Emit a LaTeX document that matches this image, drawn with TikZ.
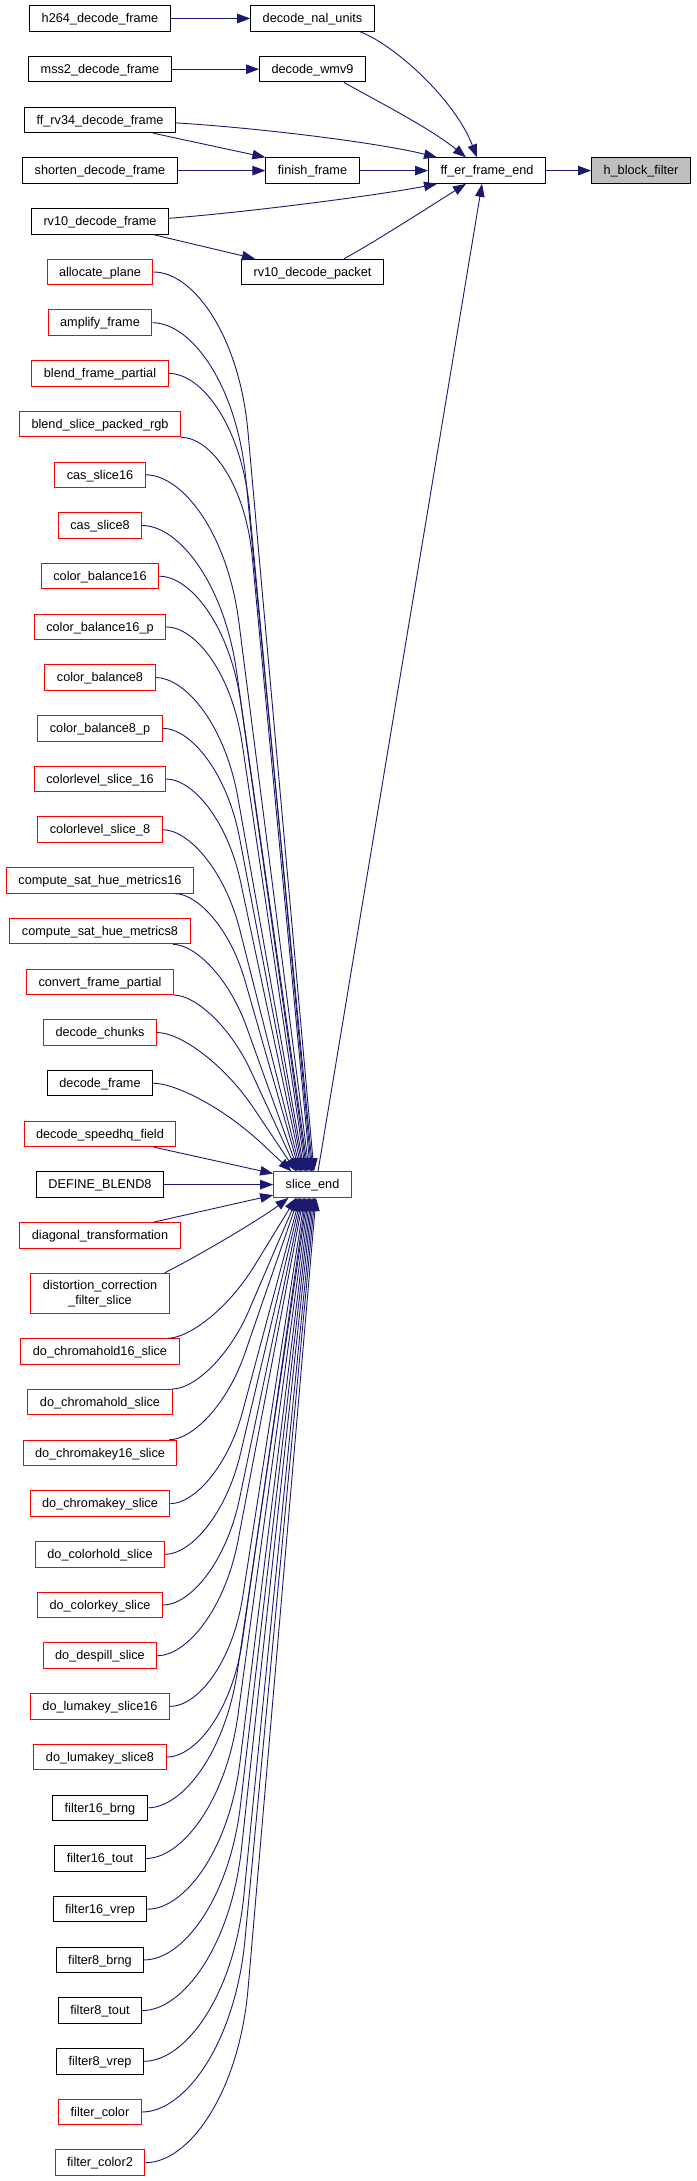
\documentclass[tikz,border=0pt]{standalone}
\usepackage{fontspec}
\setmainfont{Liberation Sans}[Ligatures={NoCommon}]
\usetikzlibrary{arrows.meta,calc}
\definecolor{edgeblue}{RGB}{25,25,112}
\definecolor{nodegray}{RGB}{191,191,191}
\newcommand\fanedge[2]{%
  \draw[conn] let \p1=(#1), \p2=(#2),
    \n{f}={0.3+abs(\y2-\y1)/4500},
    \n{xc}={\x1+\n{f}*(\x2-\x1)},
    \n{dx}={(\x2-\n{xc})/100}, \n{dy}={(\y2-\y1)/100},
    \n{d}={sqrt(\n{dx}*\n{dx}+\n{dy}*\n{dy})},
    \n{L}={min(2*(\n{xc}-\x1),70*\n{d})},
    \n{ux}={\n{dx}/\n{d}}, \n{uy}={\n{dy}/\n{d}}
  in (\p1) .. controls ({\x1+0.5*(\n{xc}-\x1)},\y1)
     and ({\n{xc}+0.4*\n{L}*\n{ux}},{\y1+0.4*\n{L}*\n{uy}})
     .. ({\n{xc}+\n{L}*\n{ux}},{\y1+\n{L}*\n{uy}}) -- (\p2);}
\begin{document}
\begin{tikzpicture}[x=1pt,y=-1pt,
  nbase/.style={draw=black, line width=1pt, fill=white, inner xsep=12pt, inner ysep=0pt,
    font=\fontsize{12.7}{15}\selectfont, text=black},
  nbox/.style={nbase, minimum height=25.5pt, text height=10.4pt, text depth=2pt},
  rbox/.style={nbox, draw=red},
  conn/.style={draw=edgeblue, line width=0.9pt, -{Triangle[length=13pt,width=9.5pt]}}]
\fill[white] (0,0) rectangle (696,2181);
\useasboundingbox (0,0) rectangle (696,2181);
% upper part
\node[nbox] (h264) at (100,18.5) {h264\_decode\_frame};
\node[nbox] (dnal) at (312.5,18.5) {decode\_nal\_units};
\node[nbox] (mss2) at (100,69.2) {mss2\_decode\_frame};
\node[nbox] (wmv9) at (312.5,69.2) {decode\_wmv9};
\node[nbox] (rv34) at (100,119.9) {ff\_rv34\_decode\_frame};
\node[nbox] (shorten) at (100,170.6) {shorten\_decode\_frame};
\node[nbox] (finish) at (312.5,170.6) {finish\_frame};
\node[nbox] (ffer) at (487,170.6) {ff\_er\_frame\_end};
\node[nbox, fill=nodegray] (hbf) at (641,170.6) {h\_block\_filter};
\node[nbox] (rv10f) at (100,221.3) {rv10\_decode\_frame};
\node[nbox] (rv10p) at (312.5,272.0) {rv10\_decode\_packet};
% callers of slice_end
\node[rbox] (alloc) at (100,272.0) {allocate\_plane};
\node[rbox] (amplify) at (100,322.7) {amplify\_frame};
\node[rbox] (blendfp) at (100,373.4) {blend\_frame\_partial};
\node[rbox] (blendsp) at (100,424.1) {blend\_slice\_packed\_rgb};
\node[rbox] (cas16) at (100,474.8) {cas\_slice16};
\node[rbox] (cas8) at (100,525.5) {cas\_slice8};
\node[rbox] (cb16) at (100,576.2) {color\_balance16};
\node[rbox] (cb16p) at (100,626.9) {color\_balance16\_p};
\node[rbox] (cb8) at (100,677.6) {color\_balance8};
\node[rbox] (cb8p) at (100,728.3) {color\_balance8\_p};
\node[rbox] (cl16) at (100,779.0) {colorlevel\_slice\_16};
\node[rbox] (cl8) at (100,829.7) {colorlevel\_slice\_8};
\node[rbox] (csh16) at (100,880.4) {compute\_sat\_hue\_metrics16};
\node[rbox] (csh8) at (100,931.1) {compute\_sat\_hue\_metrics8};
\node[rbox] (convert) at (100,981.8) {convert\_frame\_partial};
\node[rbox] (chunks) at (100,1032.5) {decode\_chunks};
\node[nbox] (decframe) at (100,1083.2) {decode\_frame};
\node[rbox] (speedhq) at (100,1133.9) {decode\_speedhq\_field};
\node[nbox] (defblend) at (100,1184.6) {DEFINE\_BLEND8};
\node[rbox] (slice) at (312.5,1184.6) {slice\_end};
\node[rbox] (diag) at (100,1235.3) {diagonal\_transformation};
\node[nbase, draw=red, align=center, minimum height=40pt] (distort) at (100,1293.3) {distortion\_correction\\\_filter\_slice};
\node[rbox] (ch16) at (100,1351.5) {do\_chromahold16\_slice};
\node[rbox] (ch) at (100,1402.2) {do\_chromahold\_slice};
\node[rbox] (ck16) at (100,1452.9) {do\_chromakey16\_slice};
\node[rbox] (ck) at (100,1503.6) {do\_chromakey\_slice};
\node[rbox] (colorhold) at (100,1554.3) {do\_colorhold\_slice};
\node[rbox] (colorkey) at (100,1605.0) {do\_colorkey\_slice};
\node[rbox] (despill) at (100,1655.7) {do\_despill\_slice};
\node[rbox] (luma16) at (100,1706.4) {do\_lumakey\_slice16};
\node[rbox] (luma8) at (100,1757.1) {do\_lumakey\_slice8};
\node[nbox] (f16b) at (100,1807.8) {filter16\_brng};
\node[nbox] (f16t) at (100,1858.5) {filter16\_tout};
\node[nbox] (f16v) at (100,1909.2) {filter16\_vrep};
\node[nbox] (f8b) at (100,1959.9) {filter8\_brng};
\node[nbox] (f8t) at (100,2010.6) {filter8\_tout};
\node[nbox] (f8v) at (100,2061.3) {filter8\_vrep};
\node[rbox] (fcolor) at (100,2112.0) {filter\_color};
\node[rbox] (fcolor2) at (100,2162.7) {filter\_color2};
% upper edges
\draw[conn] (h264) -- (dnal);
\draw[conn] (mss2) -- (wmv9);
\draw[conn] ([xshift=47.5pt]dnal.south) .. controls (395,45) and (455,100) .. ([xshift=-10pt]ffer.north);
\draw[conn] ([xshift=31.5pt]wmv9.south) .. controls (375,100) and (430,128) .. ([xshift=-21pt]ffer.north);
\draw[conn] ([yshift=-3pt]rv34.east) .. controls (260,128) and (380,143) .. ([xshift=-50pt]ffer.north);
\draw[conn] ([xshift=53pt]rv34.south) -- (finish.north west);
\draw[conn] (shorten) -- (finish);
\draw[conn] (finish) -- (ffer);
\draw[conn] (ffer) -- (hbf);
\draw[conn] ([yshift=3pt]rv10f.east) .. controls (250,212) and (380,195) .. ([xshift=-50pt]ffer.south);
\draw[conn] ([xshift=53pt]rv10f.south) -- ([xshift=-57.5pt]rv10p.north);
\draw[conn] ([xshift=31.5pt]rv10p.north) .. controls (375,242) and (440,200) .. ([xshift=-21pt]ffer.south);
\draw[conn] ([xshift=5.5pt]slice.north) -- ([xshift=-5pt]ffer.south);
% edges into slice_end from above
\fanedge{alloc.east}{[xshift=1.5pt]slice.north}
\fanedge{amplify.east}{[xshift=0.3pt]slice.north}
\fanedge{blendfp.east}{[xshift=-0.9pt]slice.north}
\fanedge{blendsp.south east}{[xshift=-2.1pt]slice.north}
\fanedge{cas16.east}{[xshift=-3.3pt]slice.north}
\fanedge{cas8.east}{[xshift=-4.5pt]slice.north}
\fanedge{cb16.east}{[xshift=-5.7pt]slice.north}
\fanedge{cb16p.east}{[xshift=-6.9pt]slice.north}
\fanedge{cb8.east}{[xshift=-8.1pt]slice.north}
\fanedge{cb8p.east}{[xshift=-9.3pt]slice.north}
\fanedge{cl16.east}{[xshift=-10.5pt]slice.north}
\fanedge{cl8.east}{[xshift=-11.7pt]slice.north}
\fanedge{[xshift=75pt]csh16.south}{[xshift=-12.9pt]slice.north}
\fanedge{[xshift=73pt]csh8.south}{[xshift=-14.1pt]slice.north}
\fanedge{convert.south east}{[xshift=-15.3pt]slice.north}
\fanedge{chunks.east}{[xshift=-16.5pt]slice.north}
\fanedge{decframe.east}{[xshift=-21pt]slice.north}
\draw[conn] ([xshift=54pt]speedhq.south) -- ([yshift=11pt]slice.west);
\draw[conn] (defblend) -- (slice);
\draw[conn] ([xshift=54pt]diag.north) -- ([yshift=-10.5pt]slice.west);
\draw[conn] ([xshift=-5pt]distort.north east) .. controls (200,1255) and (262,1218) .. ([xshift=-24pt]slice.south);
% edges into slice_end from below
\fanedge{[xshift=-12pt]ch16.north east}{[xshift=-16.5pt]slice.south}
\fanedge{ch.north east}{[xshift=-15.25pt]slice.south}
\fanedge{[xshift=-8pt]ck16.north east}{[xshift=-14pt]slice.south}
\fanedge{ck.east}{[xshift=-12.75pt]slice.south}
\fanedge{colorhold.east}{[xshift=-11.5pt]slice.south}
\fanedge{colorkey.east}{[xshift=-10.25pt]slice.south}
\fanedge{despill.east}{[xshift=-9pt]slice.south}
\fanedge{luma16.east}{[xshift=-7.75pt]slice.south}
\fanedge{luma8.east}{[xshift=-6.5pt]slice.south}
\fanedge{f16b.east}{[xshift=-5.25pt]slice.south}
\fanedge{f16t.east}{[xshift=-4pt]slice.south}
\fanedge{f16v.east}{[xshift=-2.75pt]slice.south}
\fanedge{f8b.east}{[xshift=-1.5pt]slice.south}
\fanedge{f8t.east}{[xshift=-0.25pt]slice.south}
\fanedge{f8v.east}{[xshift=1pt]slice.south}
\fanedge{fcolor.east}{[xshift=2.25pt]slice.south}
\fanedge{fcolor2.east}{[xshift=3.5pt]slice.south}
\end{tikzpicture}
\end{document}
